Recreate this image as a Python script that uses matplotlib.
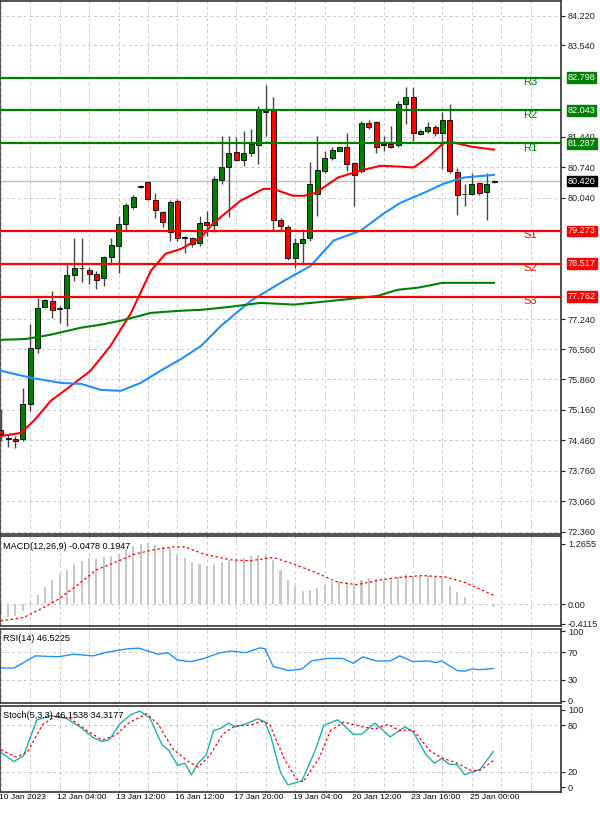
import matplotlib
matplotlib.use("Agg")
import matplotlib.pyplot as plt
import matplotlib.transforms as mtrans
import numpy as np

plt.rcParams["font.family"] = "Liberation Sans"

# ---------------- data ----------------
opens = [74.70,74.52,74.50,74.49,75.30,76.59,77.53,77.67,77.48,77.51,78.27,78.43,78.38,78.29,78.20,78.68,78.93,79.44,79.83,80.28,
         80.40,79.99,79.71,79.25,79.97,79.13,79.12,79.00,79.48,79.41,80.45,80.75,81.09,80.91,81.07,81.25,82.02,82.04,79.53,79.37,
         78.66,79.00,79.12,80.13,80.66,80.96,81.12,81.19,80.84,80.66,81.76,81.78,81.26,81.26,81.25,82.20,82.34,81.51,81.58,81.67,
         81.53,81.83,80.63,80.11,80.11,80.38,80.17,80.40]
highs = [75.19,74.60,74.55,75.67,77.14,77.74,77.72,77.90,77.55,78.54,79.12,79.12,78.45,78.36,78.70,79.12,79.62,79.92,80.10,80.33,
         80.42,80.15,79.73,79.99,80.01,79.15,79.14,79.62,79.74,80.54,81.46,81.46,81.44,81.58,81.62,82.15,82.63,82.34,79.58,79.42,
         79.10,79.32,80.86,81.46,81.12,81.20,81.22,81.53,80.86,81.80,81.82,81.80,81.46,81.69,82.25,82.59,82.59,81.62,81.78,81.70,
         82.01,82.20,80.73,80.36,80.61,80.40,80.61,80.45]
lows = [74.45,74.31,74.29,74.45,75.14,76.47,77.50,77.28,77.16,77.09,78.13,78.11,78.06,77.94,78.01,78.50,78.31,79.28,79.78,80.26,
        79.99,79.58,79.37,79.05,79.05,78.77,78.90,78.93,79.16,79.25,80.34,79.60,80.88,80.77,81.00,80.82,81.46,79.28,79.30,78.60,
        78.43,78.54,79.05,79.62,80.60,80.90,81.10,80.66,79.85,80.60,81.62,81.07,81.12,81.17,81.20,81.74,81.35,81.48,81.52,81.45,
        80.70,80.60,79.65,79.85,80.10,80.10,79.53,80.38]
closes = [74.60,74.49,74.45,75.30,76.59,77.51,77.69,77.46,77.49,78.27,78.43,78.41,78.29,78.15,78.68,78.95,79.44,79.87,80.06,80.31,
          80.01,79.76,79.48,79.94,79.12,79.12,78.98,79.46,79.41,80.47,80.75,81.07,80.91,81.07,81.28,82.06,82.00,79.53,79.39,78.66,
          79.00,79.09,80.36,80.68,80.96,81.14,81.19,80.82,80.56,81.76,81.67,81.19,81.25,81.21,82.20,82.34,81.53,81.58,81.67,81.53,
          81.83,80.66,80.10,80.13,80.36,80.15,80.36,80.42]

ma_red_idx = [0,2.7,4.5,6.8,9.5,12.2,14.9,17.7,20.4,22.4,24.5,27.2,28.8,32.6,35.7,37,39.7,41.2,42.8,45.8,48.9,51.6,54.3,56.1,58,60.2,61.1,63.9,67]
ma_red_val = [74.56,74.63,74.91,75.37,75.71,76.06,76.63,77.39,78.36,78.75,78.86,79.12,79.44,79.97,80.24,80.24,80.08,80.08,80.15,80.50,80.66,80.77,80.75,80.73,80.96,81.30,81.32,81.21,81.14]
ma_blue_idx = [0,4.1,8.2,10.9,13.6,16.3,19,21.7,24.5,27.2,29.9,34,38.5,42.1,45.2,48.9,52,54.3,57.5,60.2,62.9,67]
ma_blue_val = [76.06,75.90,75.78,75.76,75.62,75.60,75.78,76.06,76.33,76.63,77.09,77.67,78.13,78.47,79.05,79.28,79.67,79.92,80.15,80.36,80.50,80.56]
ma_green_idx = [0,3.4,6.8,10.9,13.6,16.3,20.4,24.5,27.2,31.2,35.3,39.8,45.2,51.2,53.9,56.7,60,67]
ma_green_val = [76.77,76.79,76.89,77.05,77.12,77.21,77.39,77.44,77.46,77.53,77.62,77.58,77.67,77.78,77.92,77.97,78.08,78.08]

level_names = ["R3", "R2", "R1", "S1", "S2", "S3"]
level_values = [82.798, 82.043, 81.287, 79.273, 78.517, 77.762]
current_price = 80.420
price_ticks = [84.220, 83.540, 81.440, 80.740, 80.040, 77.240, 76.560, 75.860, 75.160, 74.460, 73.760, 73.060, 72.360]

macd_hist = [-0.20,-0.27,-0.25,-0.15,0.02,0.20,0.37,0.50,0.64,0.72,0.84,0.91,0.97,0.95,0.98,1.02,1.06,1.16,1.22,1.26,
             1.29,1.24,1.20,1.18,1.05,0.97,0.88,0.84,0.81,0.84,0.88,0.93,0.95,0.97,1.00,1.04,1.06,0.93,0.72,0.51,
             0.39,0.28,0.29,0.33,0.41,0.46,0.48,0.46,0.43,0.50,0.55,0.53,0.51,0.51,0.58,0.64,0.60,0.60,0.60,0.57,
             0.55,0.39,0.26,0.15,0.01,0.00,-0.01,-0.05]
macd_sig_idx = [0,3.1,5.2,7.8,10.4,13,15.6,18.2,20.8,23.4,25,27.6,31.2,33.9,37,39.6,42.7,45.8,48.4,51.6,54.7,57.3,60.4,63,66.9]
macd_sig_val = [-0.35,-0.28,-0.12,0.10,0.40,0.72,0.88,1.05,1.14,1.20,1.20,1.05,0.93,0.91,0.98,0.85,0.67,0.46,0.41,0.51,0.57,0.60,0.57,0.46,0.19]
macd_ticks = [1.2655, 0.00, -0.4115]

rsi_idx = [0,1.8,4.7,7.8,9.9,12.5,14.6,17.2,18.75,21.4,22.7,24,25.8,27.6,29.7,31.25,33.3,35.2,35.9,37,39.1,40.9,42.2,44.3,46.4,47.9,49.2,51,52.9,54.2,56,58.1,59.1,59.9,62,63,64,65.1,66.9]
rsi_val = [47.1,47,64.5,63.1,66.8,64.5,70,74.6,75.5,66.8,69,58.6,56.2,60.8,68.6,71.4,69,76,74.6,49.3,43.4,45.6,57.2,60.8,60.8,53.9,63.1,57.2,57.2,64.5,56.2,57.2,54.9,57.2,43.4,42.5,45.6,44.7,46.5]
rsi_ticks = [100, 70, 30, 0]

stoch_idx = [0,1.8,3.1,4.9,6.8,8.9,10.9,12.5,13.8,14.8,16.1,17.7,18.9,20.3,21.9,22.9,24,25,25.9,26.8,27.9,28.9,29.9,31,31.8,33.3,34.9,35.9,36.7,38,39,40.9,42.7,43.9,45.8,47.9,49,50.8,52.9,54.9,56,57.8,58.9,59.9,60.9,62,63,65.1,66.9]
stoch_val = [45.2,33.2,41.1,87,92.4,89.1,77.1,64.4,59.1,62,81.2,93.9,98.4,88.9,55.1,47.1,28.4,31.2,16.4,31.2,41.7,73.2,76.3,83.1,78,81.9,88.4,84.4,65.1,19.1,3.2,8.3,47.1,80.3,87.2,68.3,68.3,83.1,65.1,78,71.7,41.7,31.2,37.2,30,29.3,16.4,23.1,46.2]
stoch_sig_idx = [0,2.1,3.6,5.7,7.3,9.4,12,13.8,15.6,17.4,19.8,21.4,23.4,25.5,26.8,28.4,30.2,31.8,33.9,35.4,36.5,38.5,40.1,41.1,43.2,44.8,46.6,48.7,50.8,52.6,54.2,56,58.3,59.9,62,63.8,65.1,66.9]
stoch_sig_val = [48.4,39.2,45.2,81.2,91.2,89.1,71.2,61.2,67.2,83.1,95.1,81.2,49.2,33.2,26.1,41.1,69.1,79.1,80.3,85.2,81.9,37.2,11.2,7.2,37.2,73.2,84.4,79.1,75.2,81.2,73.2,74.2,47.1,38,31.2,22,22,34.3]
stoch_ticks = [100, 80, 20, 0]

date_labels = ["10 Jan 2023", "12 Jan 04:00", "13 Jan 12:00", "16 Jan 12:00", "17 Jan 20:00",
               "19 Jan 04:00", "20 Jan 12:00", "23 Jan 16:00", "25 Jan 00:00"]

# ---------------- drawing ----------------
GREEN = "#008000"
RED = "#ff0000"
BLUE = "#1e90ff"
GRID = "#c8c8c8"
FS = 6.6

fig = plt.figure(figsize=(6, 8.14), dpi=100)
W = 561 / 600
ax = fig.add_axes([0, 0.344, W, 0.655])
ax_m = fig.add_axes([0, 0.231, W, 0.1106])
ax_r = fig.add_axes([0, 0.1364, W, 0.0909])
ax_s = fig.add_axes([0, 0.027, W, 0.1057])
xlim = (-0.1, 76.1)
vgrid = np.arange(0, 77, 4)

for a in (ax, ax_m, ax_r, ax_s):
    a.set_xlim(*xlim)
    a.yaxis.tick_right()
    a.tick_params(axis="y", labelsize=FS, length=3, pad=2, colors="#222222")
    a.set_xticks(vgrid)
    a.tick_params(axis="x", length=0, labelbottom=False)
    a.grid(True, axis="x", color=GRID, linestyle=(0, (3, 3)), linewidth=0.7)
    for s in a.spines.values():
        s.set_color("#333333")
        s.set_linewidth(1.2)

# main panel
ax.set_ylim(72.31, 84.56)
ax.set_yticks(price_ticks)
ax.set_yticklabels([f"{v:.3f}" for v in price_ticks])
for v in price_ticks:
    ax.axhline(v, color=GRID, linestyle=(0, (3, 3)), linewidth=0.7, zorder=0)
ax.axhline(current_price, color="#c0c0c0", linewidth=1, zorder=1)

x = np.arange(len(opens))
for i in x:
    o, h, l, c = opens[i], highs[i], lows[i], closes[i]
    col = GREEN if c >= o else RED
    ax.vlines(i, l, h, color="#444444", linewidth=1, zorder=3)
    ax.bar(i, max(abs(c - o), 0.02), bottom=min(o, c), width=0.68, color=col,
           edgecolor="black", linewidth=0.6, zorder=4)

ax.plot(ma_red_idx, ma_red_val, color=RED, lw=1.5, zorder=5)
ax.plot(ma_blue_idx, ma_blue_val, color=BLUE, lw=1.5, zorder=5)
ax.plot(ma_green_idx, ma_green_val, color=GREEN, lw=1.5, zorder=5)

trans = mtrans.blended_transform_factory(ax.transAxes, ax.transData)
for name, v in zip(level_names, level_values):
    col = GREEN if name.startswith("R") else RED
    ax.axhline(v, color=col, lw=1.6, zorder=6)
    ax.text(0.945, v - 0.1, name, transform=trans, color=col, fontsize=8,
            ha="center", va="center", zorder=7)
    ax.text(1.012, v, f"{v:.3f}", transform=trans, color="white", fontsize=FS,
            ha="left", va="center", clip_on=False,
            bbox=dict(boxstyle="square,pad=0.1", facecolor=col, edgecolor=col))
ax.text(1.012, current_price, f"{current_price:.3f}", transform=trans, color="white",
        fontsize=FS, ha="left", va="center", clip_on=False,
        bbox=dict(boxstyle="square,pad=0.1", facecolor="black", edgecolor="black"))

# MACD
ax_m.set_ylim(-0.456, 1.43)
ax_m.set_yticks(macd_ticks)
ax_m.set_yticklabels(["1.2655", "0.00", "-0.4115"])
ax_m.axhline(0, color=GRID, linestyle=(0, (3, 3)), linewidth=0.7, zorder=0)
ax_m.bar(x, macd_hist, width=0.28, color="#c8c8c8", zorder=2)
ax_m.plot(macd_sig_idx, macd_sig_val, color=RED, lw=0.9, linestyle=(0, (2, 2)), zorder=3)
ax_m.text(0.005, 0.93, "MACD(12,26,9) -0.0478 0.1947", transform=ax_m.transAxes,
          fontsize=FS, va="top", ha="left")

# RSI
ax_r.set_ylim(-3, 103)
ax_r.set_yticks(rsi_ticks)
for v in (70, 30):
    ax_r.axhline(v, color=GRID, linestyle=(0, (3, 3)), linewidth=0.7, zorder=0)
ax_r.plot(rsi_idx, rsi_val, color=BLUE, lw=1)
ax_r.text(0.005, 0.93, "RSI(14) 46.5225", transform=ax_r.transAxes,
          fontsize=FS, va="top", ha="left")

# Stochastic
ax_s.set_ylim(-6, 105)
ax_s.set_yticks(stoch_ticks)
for v in (80, 20):
    ax_s.axhline(v, color=GRID, linestyle=(0, (3, 3)), linewidth=0.7, zorder=0)
ax_s.plot(stoch_idx, stoch_val, color="#20b2aa", lw=1)
ax_s.plot(stoch_sig_idx, stoch_sig_val, color=RED, lw=0.9, linestyle=(0, (2, 2)))
ax_s.text(0.005, 0.94, "Stoch(5,3,3) 46.1538 34.3177", transform=ax_s.transAxes,
          fontsize=FS, va="top", ha="left")

for k, lab in enumerate(date_labels):
    ax_s.text(8 * k - 0.3, -9, lab, transform=ax_s.transData, fontsize=6.1,
              ha="left", va="top", clip_on=False)

fig.savefig("out.png", dpi=100, facecolor="white")
